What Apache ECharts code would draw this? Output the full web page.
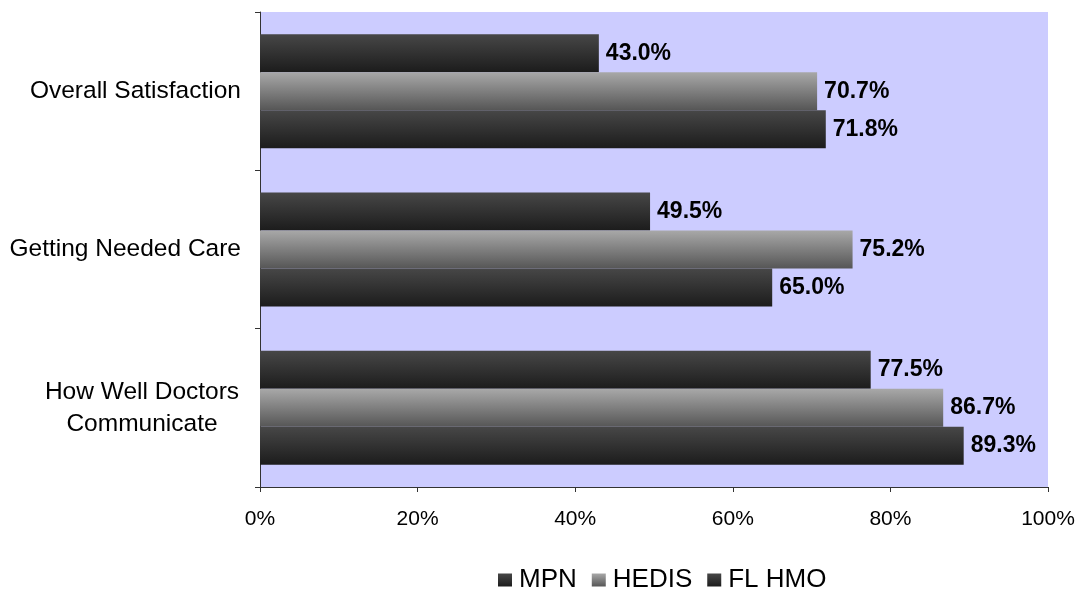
<!DOCTYPE html>
<html>
<head>
<meta charset="utf-8">
<script src="https://cdn.jsdelivr.net/npm/echarts@6/dist/echarts.min.js"></script>
<style>
  html, body { margin: 0; padding: 0; background: #ffffff; }
  #chart { width: 1080px; height: 591px; }
</style>
</head>
<body>
<div id="chart"></div>
<script>
// Survey measures, top to bottom
const categories = ['Overall Satisfaction', 'Getting Needed Care', 'How Well Doctors Communicate'];
const seriesNames = ['MPN', 'HEDIS', 'FL HMO'];
const mpnValues = [43.0, 49.5, 77.5];
const hedisValues = [70.7, 75.2, 86.7];
const flHmoValues = [71.8, 65.0, 89.3];
const xTicks = [0, 20, 40, 60, 80, 100];

const FONT = '"Liberation Sans", Arial, sans-serif';

function vGrad(top, bottom) {
  return new echarts.graphic.LinearGradient(0, 0, 0, 1, [
    { offset: 0, color: top },
    { offset: 1, color: bottom }
  ]);
}

const darkFill = vGrad('#474747', '#1c1c1c');
const greyFill = vGrad('#a8a8a8', '#565656');

function makeSeries(name, values, fill) {
  return {
    name: name,
    type: 'bar',
    data: values,
    barGap: '0%',
    barCategoryGap: '28%',
    itemStyle: { color: fill },
    label: {
      show: true,
      position: 'right',
      distance: 7,
      formatter: p => p.value.toFixed(1) + '%',
      fontFamily: FONT,
      fontWeight: 'bold',
      fontSize: 23,
      color: '#000'
    }
  };
}

const chart = echarts.init(document.getElementById('chart'), null, { renderer: 'canvas' });
chart.setOption({
  animation: false,
  backgroundColor: '#ffffff',
  grid: {
    left: 260, right: 32, top: 12, bottom: 104,
    show: true,
    backgroundColor: '#ccccff',
    borderWidth: 0
  },
  legend: {
    top: 562,
    left: 493,
    itemWidth: 14,
    itemHeight: 13,
    itemGap: 15,
    icon: 'rect',
    textStyle: { fontFamily: FONT, fontSize: 26, color: '#000', padding: [0, 0, 0, 2] },
    data: seriesNames
  },
  xAxis: {
    type: 'value',
    min: xTicks[0],
    max: xTicks[xTicks.length - 1],
    interval: xTicks[1] - xTicks[0],
    axisLine: { show: true, lineStyle: { color: '#333', width: 1 } },
    axisTick: { show: true, length: 5, lineStyle: { color: '#333' } },
    splitLine: { show: false },
    axisLabel: {
      formatter: v => v + '%',
      fontFamily: FONT,
      fontSize: 21,
      color: '#000',
      margin: 22
    }
  },
  yAxis: {
    type: 'category',
    inverse: true,
    data: categories,
    axisLine: { show: true, lineStyle: { color: '#333', width: 1 } },
    axisTick: { show: true, length: 5, lineStyle: { color: '#333' } },
    axisLabel: {
      fontFamily: FONT,
      fontSize: 24.5,
      color: '#000',
      margin: 19,
      align: 'right',
      formatter: v => v === 'How Well Doctors Communicate'
        ? '{c|How Well Doctors}\n{c|Communicate}'
        : v,
      rich: {
        c: { width: 198, align: 'center', fontFamily: FONT, fontSize: 24.5, color: '#000', lineHeight: 32 }
      }
    }
  },
  series: [
    makeSeries(seriesNames[0], mpnValues, darkFill),
    makeSeries(seriesNames[1], hedisValues, greyFill),
    makeSeries(seriesNames[2], flHmoValues, darkFill)
  ]
});
</script>
</body>
</html>
